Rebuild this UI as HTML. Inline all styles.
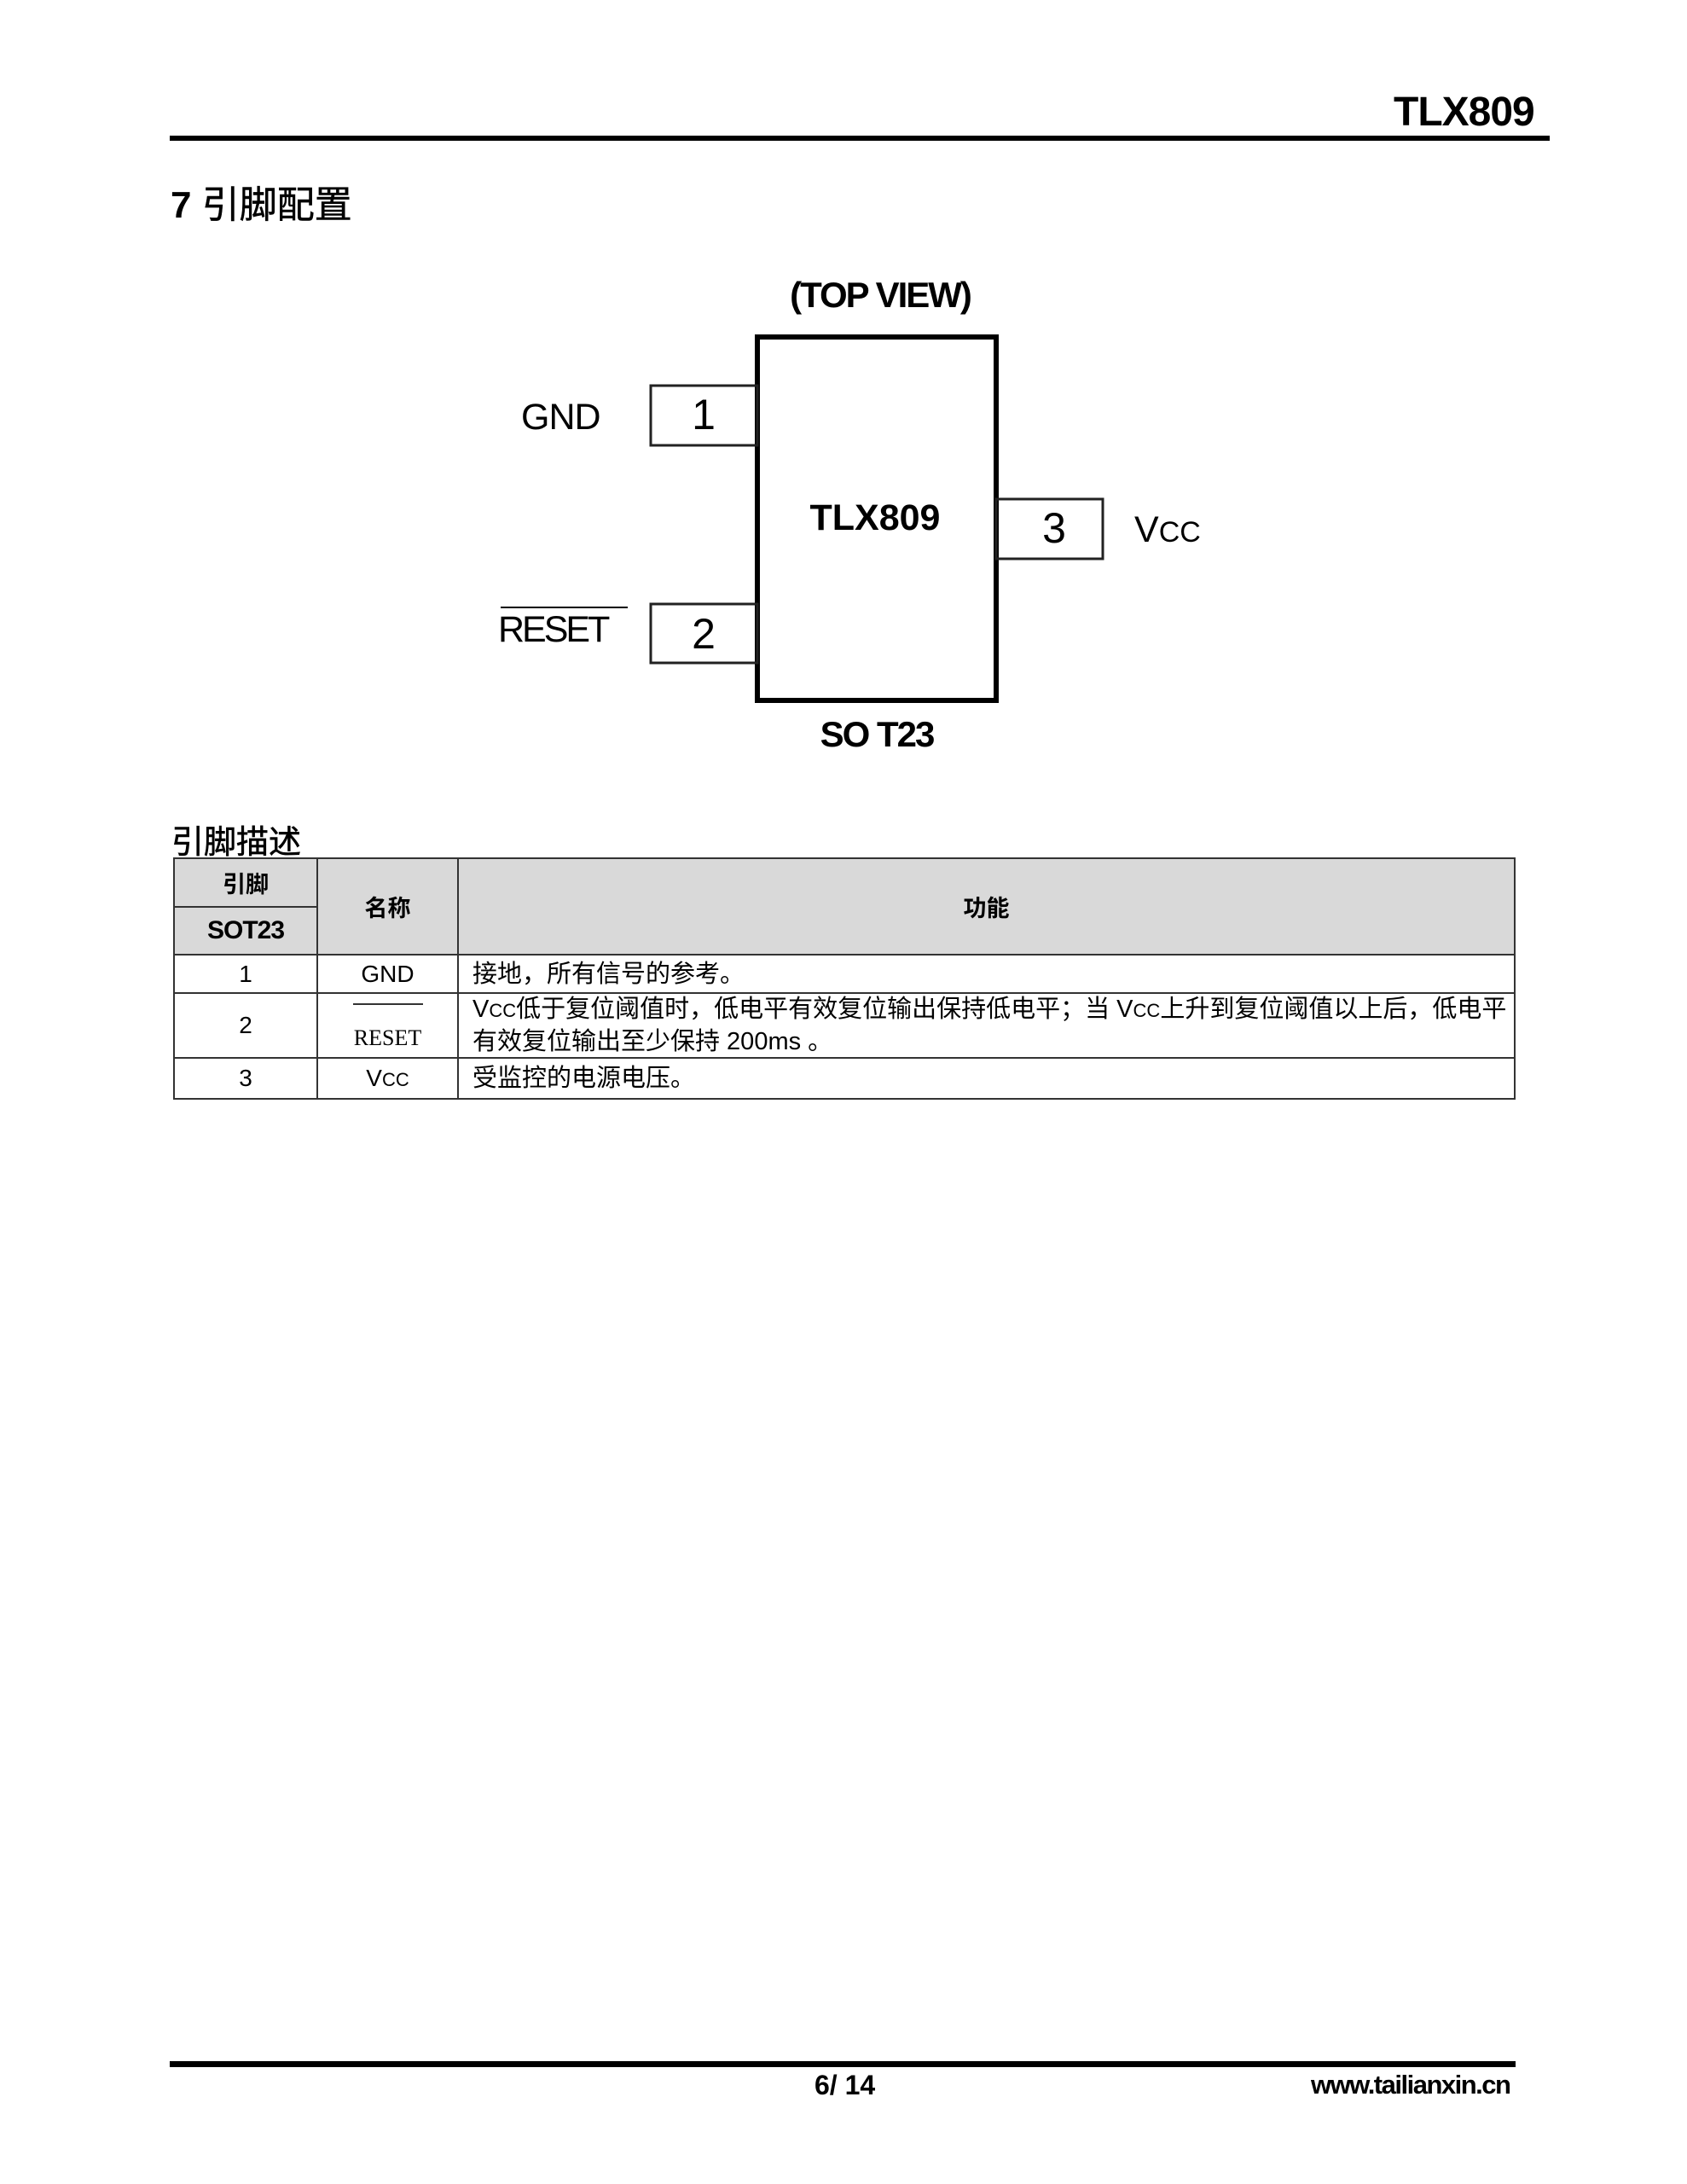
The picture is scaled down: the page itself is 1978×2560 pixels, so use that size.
<!DOCTYPE html>
<html><head><meta charset="utf-8"><style>
body{margin:0;width:1978px;height:2560px;background:#fff;position:relative;overflow:hidden;font-family:"Liberation Sans","Noto Sans CJK SC",sans-serif;color:#000}
.a{position:absolute;white-space:nowrap}
table{position:absolute;left:203px;top:1005px;width:1574px;border-collapse:collapse;font-size:28px}
td{border:2px solid #333;padding:0;text-align:center;vertical-align:middle}
th{border:2px solid #333;background:#d9d9d9;font-weight:bold;font-size:27px}
td.f{text-align:left;padding-left:16px;line-height:36px;font-size:29px;white-space:nowrap}
</style></head><body>
<div class="a" style="left:1634px;top:104px;font-size:48px;font-weight:bold;letter-spacing:-1px">TLX809</div>
<div class="a" style="left:199px;top:159px;width:1618px;height:6px;background:#000"></div>
<div class="a" style="left:200px;top:204px;font-size:44px;font-weight:bold">7 <span style="font-weight:normal;-webkit-text-stroke:0.5px #000">引脚配置</span></div>
<svg class="a" style="left:0;top:0" width="1978" height="900">
<g font-family="Liberation Sans, sans-serif">
<text x="1032" y="360" font-size="42" font-weight="bold" text-anchor="middle" letter-spacing="-2">(TOP VIEW)</text>
<rect x="888" y="395" width="280" height="426" fill="none" stroke="#000" stroke-width="6"/>
<rect x="763" y="452" width="125" height="70" fill="none" stroke="#222" stroke-width="3"/>
<rect x="763" y="708" width="125" height="69" fill="none" stroke="#222" stroke-width="3"/>
<rect x="1168" y="585" width="125" height="70" fill="none" stroke="#222" stroke-width="3"/>
<text x="825" y="503" font-size="50" text-anchor="middle">1</text>
<text x="825" y="760" font-size="50" text-anchor="middle">2</text>
<text x="1236" y="636" font-size="50" text-anchor="middle">3</text>
<text x="611" y="503" font-size="43" letter-spacing="-1">GND</text>
<text x="584" y="752" font-size="43" letter-spacing="-3">RESET</text>
<line x1="587" y1="712" x2="736" y2="712" stroke="#000" stroke-width="2"/>
<text x="1330" y="635" font-size="43">V<tspan font-size="34">CC</tspan></text>
<text x="1026" y="621" font-size="43" font-weight="bold" text-anchor="middle">TLX809</text>
<text x="1028" y="875" font-size="42" font-weight="bold" text-anchor="middle" letter-spacing="-2">SO T23</text>
</g></svg>
<div class="a" style="left:201px;top:956px;font-size:38px;-webkit-text-stroke:0.6px #000">引脚描述</div>
<table>
<tr style="height:57px"><th style="width:164px">引脚</th><th rowspan="2" style="width:161px">名称</th><th rowspan="2">功能</th></tr>
<tr style="height:56px"><th style="font-size:30px;letter-spacing:-1px">SOT23</th></tr>
<tr style="height:45px"><td>1</td><td>GND</td><td class="f">接地，所有信号的参考。</td></tr>
<tr style="height:75px"><td>2</td><td style="font-family:'Liberation Serif',serif;font-size:26px"><span style="border-top:2px solid #333;display:inline-block;width:82px;height:8px;vertical-align:top;margin-top:4px"></span><br>RESET</td><td class="f">V<span style="font-size:22px">CC</span>低于复位阈值时，低电平有效复位输出保持低电平；当 V<span style="font-size:22px">CC</span>上升到复位阈值以上后，低电平<br>有效复位输出至少保持 200ms 。</td></tr>
<tr style="height:48px"><td>3</td><td>V<span style="font-size:22px">CC</span></td><td class="f">受监控的电源电压。</td></tr>
</table>
<div class="a" style="left:199px;top:2416px;width:1578px;height:7px;background:#000"></div>
<div class="a" style="left:955px;top:2426px;font-size:32px;font-weight:bold">6/ 14</div>
<div class="a" style="left:1537px;top:2426px;font-size:31px;font-weight:bold;letter-spacing:-1.5px">www.tailianxin.cn</div>
</body></html>
